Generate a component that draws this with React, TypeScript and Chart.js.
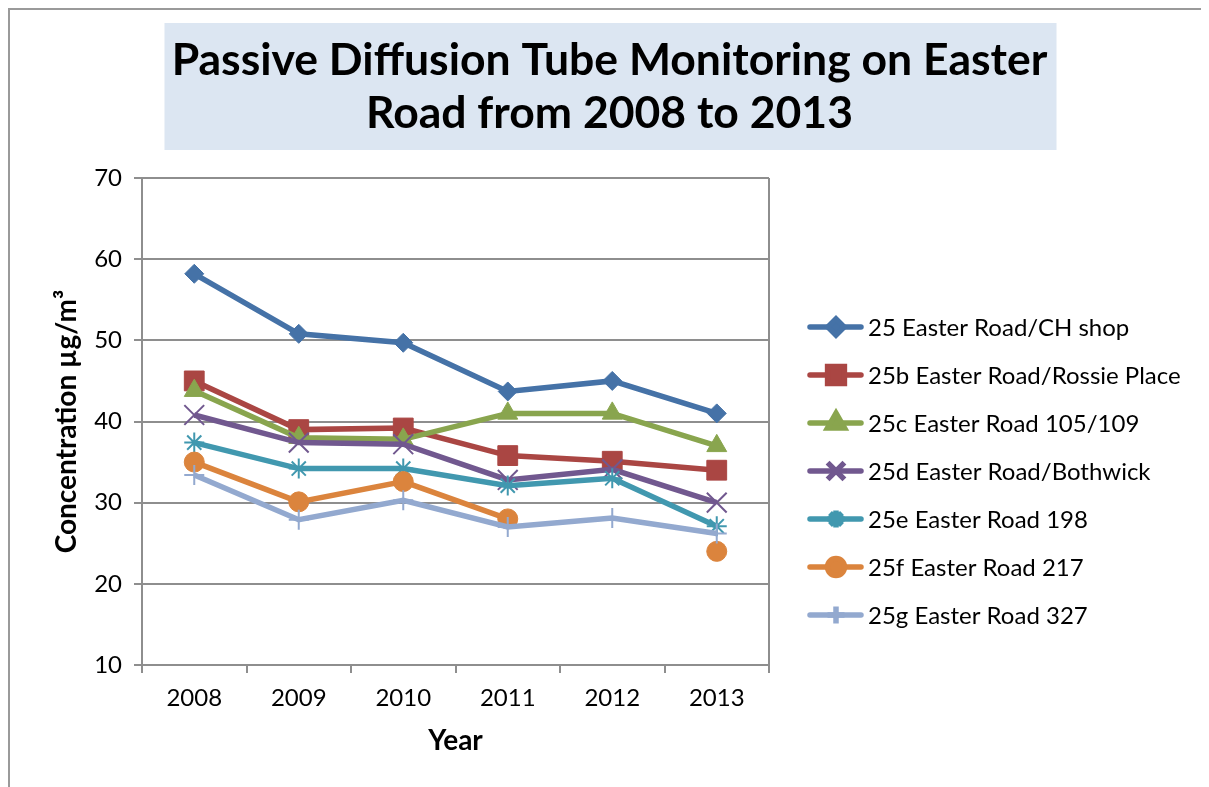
import React, { useEffect, useRef } from 'react';
import { Chart, registerables } from 'chart.js';
import { drawPoint } from 'chart.js/helpers';

Chart.register(...registerables);

const years = ['2008', '2009', '2010', '2011', '2012', '2013'];
const seriesNames = [
  '25 Easter Road/CH shop',
  '25b Easter Road/Rossie Place',
  '25c Easter Road 105/109',
  '25d Easter Road/Bothwick',
  '25e Easter Road 198',
  '25f Easter Road 217',
  '25g Easter Road 327',
];
const s25 = [58.2, 50.8, 49.7, 43.7, 45.0, 41.0];
const s25b = [45.0, 39.0, 39.2, 35.8, 35.1, 34.0];
const s25c = [43.8, 38.0, 37.8, 41.0, 41.0, 37.0];
const s25d = [40.8, 37.4, 37.2, 32.8, 34.1, 30.0];
const s25e = [37.4, 34.2, 34.2, 32.1, 33.0, 27.1];
const s25f = [35.0, 30.1, 32.6, 28.0, null, 24.0];
const s25g = [33.4, 27.9, 30.3, 27.0, 28.1, 26.2];
const seriesValues = [s25, s25b, s25c, s25d, s25e, s25f, s25g];
const yMin = 10;
const yMax = 70;
const yStep = 10;
const titleLines = ['Passive Diffusion Tube Monitoring on Easter', 'Road from 2008 to 2013'];
const yAxisTitle = 'Concentration µg/m³';
const xAxisTitle = 'Year';

const colors = ['#4572A7', '#AA4643', '#89A54E', '#71588F', '#4198AF', '#DB843D', '#93A9CF'];
const markerStyles = ['rectRot', 'rect', 'triangle', 'crossRot', 'star', 'circle', 'cross'];
const markerRadii = [9.5, 14, 11.5, 14, 10, 10, 10];
const FONT = 'Lato, "Open Sans", sans-serif';
const GRID = '#8E8E8E';

const titleBoxPlugin = {
  id: 'titleBox',
  beforeDraw(chart: any) {
    const ctx = chart.ctx;
    ctx.save();
    ctx.fillStyle = '#DCE6F2';
    const w = 892;
    ctx.fillRect(chart.width / 2 - w / 2 + 1, 13, w, 127);
    ctx.restore();
  },
};

const rightBorderPlugin = {
  id: 'rightBorder',
  beforeDatasetsDraw(chart: any) {
    const { ctx, chartArea } = chart;
    ctx.save();
    ctx.strokeStyle = GRID;
    ctx.lineWidth = 2;
    ctx.beginPath();
    ctx.moveTo(chartArea.right, chartArea.top);
    ctx.lineTo(chartArea.right, chartArea.bottom);
    ctx.stroke();
    ctx.restore();
  },
};

const sideLegendPlugin = {
  id: 'sideLegend',
  afterDraw(chart: any) {
    const { ctx, chartArea } = chart;
    const x0 = chartArea.right + 39;
    const y0 = 317;
    const gap = 48;
    ctx.save();
    chart.data.datasets.forEach((ds: any, i: number) => {
      const y = y0 + i * gap;
      ctx.strokeStyle = ds.borderColor;
      ctx.lineWidth = 5.5;
      ctx.lineCap = 'round';
      ctx.beginPath();
      ctx.moveTo(x0 + 2, y);
      ctx.lineTo(x0 + 53, y);
      ctx.stroke();
      ctx.lineCap = 'butt';
      ctx.fillStyle = ds.pointBackgroundColor;
      ctx.strokeStyle = ds.pointBorderColor;
      drawPoint(
        ctx,
        {
          pointStyle: ds.pointStyle,
          rotation: 0,
          radius: ds.pointRadius * 0.85,
          borderWidth: ds.pointBorderWidth,
        },
        x0 + 28,
        y
      );
      ctx.fillStyle = '#000';
      ctx.font = `24px ${FONT}`;
      ctx.textBaseline = 'middle';
      ctx.textAlign = 'left';
      ctx.fillText(ds.label, x0 + 60, y + 1);
    });
    ctx.restore();
  },
};

export default function App() {
  const canvasRef = useRef<HTMLCanvasElement | null>(null);

  useEffect(() => {
    document.documentElement.style.overflow = 'hidden';
    const canvas = canvasRef.current;
    if (!canvas) return;
    const datasets = seriesNames.map((name, i) => {
      const filled = !['crossRot', 'star', 'cross'].includes(markerStyles[i]);
      return {
        label: name,
        data: seriesValues[i],
        borderColor: colors[i],
        backgroundColor: colors[i],
        borderWidth: 5.5,
        pointStyle: markerStyles[i],
        pointRadius: markerRadii[i],
        pointHoverRadius: markerRadii[i],
        pointBackgroundColor: colors[i],
        pointBorderColor: colors[i],
        pointBorderWidth: filled ? 1 : 2,
        tension: 0,
        spanGaps: false,
        order: seriesNames.length - i,
      };
    });
    const chart = new Chart(canvas, {
      type: 'line',
      data: { labels: years, datasets },
      plugins: [titleBoxPlugin, rightBorderPlugin, sideLegendPlugin],
      options: {
        animation: false,
        responsive: true,
        maintainAspectRatio: false,
        layout: { padding: 0 },
        plugins: {
          legend: { display: false },
          tooltip: { enabled: false },
          title: {
            display: true,
            text: titleLines,
            color: '#000',
            font: { family: FONT, size: 44.5, weight: 'bold', lineHeight: 53 / 44.5 },
            padding: { top: 24, bottom: 38 },
          },
        },
        scales: {
          x: {
            type: 'category',
            offset: true,
            afterFit(scale: any) {
              scale.height = 122;
            },
            grid: {
              offset: true,
              drawOnChartArea: false,
              drawTicks: true,
              tickLength: 8,
              color: GRID,
              lineWidth: 2,
            },
            border: { display: true, color: GRID, width: 2 },
            ticks: { color: '#000', font: { family: FONT, size: 24 }, padding: 11 },
            title: {
              display: true,
              text: xAxisTitle,
              color: '#000',
              font: { family: FONT, size: 28, weight: 'bold' },
              padding: { top: 0, bottom: 29 },
            },
          },
          y: {
            min: yMin,
            max: yMax,
            afterFit(scale: any) {
              scale.width = 132;
            },
            ticks: { stepSize: yStep, color: '#000', font: { family: FONT, size: 24 }, padding: 12 },
            grid: { color: GRID, lineWidth: 2, tickLength: 8, drawTicks: true },
            border: { display: true, color: GRID, width: 2 },
            title: {
              display: true,
              text: yAxisTitle,
              color: '#000',
              font: { family: FONT, size: 28, weight: 'bold' },
              padding: { top: 40, bottom: 0 },
            },
          },
          legendSpace: {
            type: 'linear',
            position: 'right',
            display: true,
            afterFit(scale: any) {
              scale.width = 440;
            },
            grid: { display: false, drawTicks: false },
            border: { display: false },
            ticks: { display: false },
          },
        },
      },
    } as any);
    return () => chart.destroy();
  }, []);

  return (
    <div
      style={{
        position: 'relative',
        width: 1201,
        height: 779,
        borderLeft: '2px solid #9A9A9A',
        borderTop: '2px solid #9A9A9A',
        boxSizing: 'border-box',
        background: '#fff',
      }}
    >
      <canvas ref={canvasRef} />
    </div>
  );
}
